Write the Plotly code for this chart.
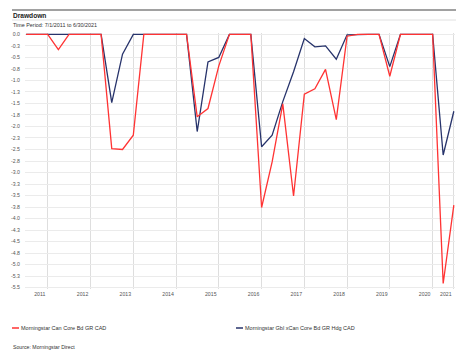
import plotly.graph_objects as go

# ---------------- data ----------------
quarters = [
    "2011-06-30", "2011-09-30", "2011-12-31",
    "2012-03-31", "2012-06-30", "2012-09-30", "2012-12-31",
    "2013-03-31", "2013-06-30", "2013-09-30", "2013-12-31",
    "2014-03-31", "2014-06-30", "2014-09-30", "2014-12-31",
    "2015-03-31", "2015-06-30", "2015-09-30", "2015-12-31",
    "2016-03-31", "2016-06-30", "2016-09-30", "2016-12-31",
    "2017-03-31", "2017-06-30", "2017-09-30", "2017-12-31",
    "2018-03-31", "2018-06-30", "2018-09-30", "2018-12-31",
    "2019-03-31", "2019-06-30", "2019-09-30", "2019-12-31",
    "2020-03-31", "2020-06-30", "2020-09-30", "2020-12-31",
    "2021-03-31", "2021-06-30",
]

can_core_name = "Morningstar Can Core Bd GR CAD"
can_core = [
    0, 0, 0,
    -0.33, 0, 0, 0,
    0, -2.48, -2.50, -2.19,
    0, 0, 0, 0,
    0, -1.79, -1.61, -0.69,
    0, 0, 0, -3.76,
    -2.77, -1.51, -3.51, -1.30,
    -1.18, -0.76, -1.85, -0.04,
    0, 0, 0, -0.91,
    0, 0, 0, 0,
    -5.41, -3.71,
]

gbl_name = "Morningstar Gbl xCan Core Bd GR Hdg CAD"
gbl = [
    0, 0, 0,
    0, 0, 0, 0,
    0, -1.48, -0.43, 0,
    0, 0, 0, 0,
    0, -2.11, -0.60, -0.50,
    0, 0, 0, -2.44,
    -2.19, -1.46, -0.81, -0.09,
    -0.27, -0.25, -0.54, -0.01,
    0, 0, 0, -0.70,
    0, 0, 0, 0,
    -2.62, -1.67,
]

x_tick_vals = ["2011-12-31", "2012-12-31", "2013-12-31", "2014-12-31", "2015-12-31",
               "2016-12-31", "2017-12-31", "2018-12-31", "2019-12-31", "2020-12-31",
               "2021-06-30"]
x_tick_text = ["2011", "2012", "2013", "2014", "2015", "2016", "2017", "2018", "2019",
               "2020", "2021"]

y_tick_vals = [-0.25 * i for i in range(23)]
y_tick_text = ["0.0", "-0.3", "-0.5", "-0.8", "-1.0", "-1.3", "-1.5", "-1.8", "-2.0",
               "-2.3", "-2.5", "-2.8", "-3.0", "-3.3", "-3.5", "-3.8", "-4.0", "-4.3",
               "-4.5", "-4.8", "-5.0", "-5.3", "-5.5"]

title_text = "Drawdown"
period_text = "Time Period: 7/1/2011 to 6/30/2021"
source_text = "Source: Morningstar Direct"

# ---------------- styling ----------------
RED = "#ff3333"
BLUE = "#27336b"
FONT = "Liberation Sans, Arial, sans-serif"
W, H = 468, 353
L, R, T, B = 25, 13, 33, 64
PW, PH = W - L - R, H - T - B


def px(xp):
    return (xp - L) / PW


def py(yp):
    return (H - B - yp) / PH


fig = go.Figure()
fig.add_trace(go.Scatter(x=quarters, y=gbl, mode="lines", name=gbl_name,
                         line=dict(color=BLUE, width=1.3), showlegend=False))
fig.add_trace(go.Scatter(x=quarters, y=can_core, mode="lines", name=can_core_name,
                         line=dict(color=RED, width=1.3), showlegend=False))

fig.update_layout(
    width=W, height=H,
    margin=dict(l=L, r=R, t=T, b=B, pad=0),
    paper_bgcolor="white", plot_bgcolor="white",
    font=dict(family=FONT, size=5.2, color="#555555"),
    xaxis=dict(
        type="date", range=["2011-06-20", "2021-07-10"],
        tickvals=x_tick_vals, ticktext=x_tick_text,
        showgrid=True, gridcolor="#dedede", gridwidth=1,
        zeroline=False, showline=False, ticks="",
        ticklabelshift=-8, ticklabelstandoff=1,
        tickfont=dict(size=5.2, color="#555555"),
    ),
    yaxis=dict(
        range=[-5.53, 0.03],
        tickvals=y_tick_vals, ticktext=y_tick_text,
        showgrid=True, gridcolor="#ebebeb", gridwidth=1,
        zeroline=False, showline=False, ticks="",
        ticklabelstandoff=4,
        tickfont=dict(size=5.2, color="#555555"),
    ),
)

shapes = [
    dict(type="line", xref="paper", yref="paper", x0=px(12), x1=px(456), y0=py(10), y1=py(10),
         line=dict(color="#444444", width=1.2)),
    dict(type="line", xref="paper", yref="paper", x0=px(12), x1=px(456), y0=py(20), y1=py(20),
         line=dict(color="#d8d8d8", width=0.8)),
    dict(type="line", xref="paper", yref="paper", x0=px(12), x1=px(19), y0=py(328), y1=py(328),
         line=dict(color=RED, width=1.5)),
    dict(type="line", xref="paper", yref="paper", x0=px(236), x1=px(243), y0=py(328), y1=py(328),
         line=dict(color=BLUE, width=1.5)),
]
fig.update_layout(shapes=shapes)

annos = [
    dict(text="<b>" + title_text + "</b>", x=px(11.5), y=py(15), font=dict(size=6.6, color="#222222")),
    dict(text=period_text, x=px(11.5), y=py(24.7), font=dict(size=5.4, color="#333333")),
    dict(text=can_core_name, x=px(20), y=py(328), font=dict(size=5.5, color="#333333")),
    dict(text=gbl_name, x=px(243.5), y=py(328), font=dict(size=5.5, color="#333333")),
    dict(text=source_text, x=px(11.5), y=py(346.5), font=dict(size=5.2, color="#333333")),
]
for a in annos:
    fig.add_annotation(xref="paper", yref="paper", xanchor="left", yanchor="middle",
                       showarrow=False, borderpad=0, **a)

fig.write_html("out.html")
